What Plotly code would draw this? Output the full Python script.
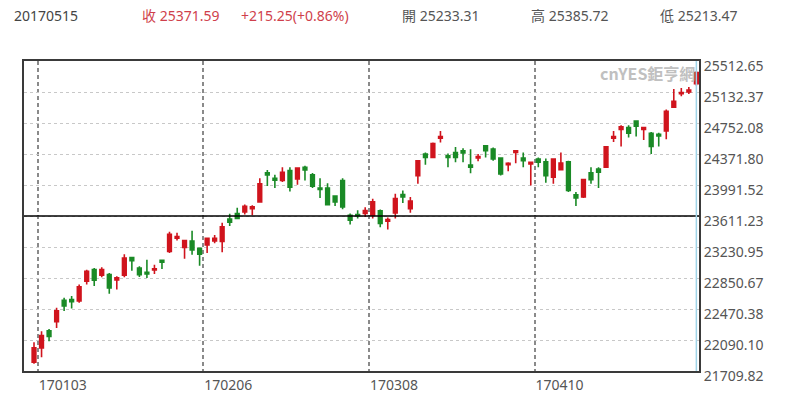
import plotly.graph_objects as go

dates = ["161230",
         "170103", "170104", "170105", "170106",
         "170109", "170110", "170111", "170112", "170113",
         "170116", "170117", "170118", "170119", "170120",
         "170123", "170124", "170125", "170126", "170127",
         "170201", "170202", "170203",
         "170206", "170207", "170208", "170209", "170210",
         "170213", "170214", "170215", "170216", "170217",
         "170220", "170221", "170222", "170223", "170224",
         "170227", "170228", "170301", "170302", "170303",
         "170306", "170307", "170308", "170309", "170310",
         "170313", "170314", "170315", "170316", "170317",
         "170320", "170321", "170322", "170323", "170324",
         "170327", "170328", "170329", "170330", "170331",
         "170403", "170405", "170406", "170407",
         "170410", "170411", "170412", "170413",
         "170418", "170419", "170420", "170421",
         "170424", "170425", "170426", "170427", "170428",
         "170502", "170504", "170505",
         "170508", "170509", "170510", "170511", "170512",
         "170515"]

open_ = [21819, 21993, 22204, 22314, 22576, 22585, 22569, 22812, 22953, 22885,
         22892, 22828, 22885, 23103, 22973, 22921, 22949, 23067, 23176, 23338,
         23225, 23305, 23216, 23256, 23305, 23298, 23575, 23642, 23662, 23702,
         23784, 24140, 24075, 24046, 24168, 24067, 24209, 24116, 23954, 23954,
         23857, 24046, 23621, 23629, 23642, 23621, 23674, 23548, 23650, 23875,
         23702, 24107, 24371, 24330, 24565, 24350, 24391, 24411, 24237, 24322,
         24471, 24431, 24322, 24241, 24391, 24322, 24249, 24310, 24277, 24087,
         24180, 24277, 23872, 23844, 24140, 24188, 24209, 24565, 24674, 24695,
         24775, 24674, 24626, 24614, 24654, 24945, 25112, 25132, 25233.31]

high = [22062, 22196, 22224, 22487, 22609, 22630, 22771, 22953, 22973, 22982,
        22912, 22873, 23143, 23108, 22994, 23074, 23014, 23070, 23419, 23407,
        23314, 23431, 23225, 23346, 23378, 23529, 23640, 23711, 23751, 23743,
        24075, 24176, 24116, 24209, 24209, 24209, 24229, 24140, 24075, 24014,
        23865, 24075, 23642, 23682, 23720, 23824, 23690, 23593, 23885, 23925,
        23844, 24292, 24391, 24512, 24654, 24379, 24459, 24443, 24431, 24371,
        24483, 24452, 24330, 24270, 24414, 24391, 24273, 24330, 24318, 24318,
        24391, 24289, 23905, 24067, 24209, 24209, 24471, 24654, 24723, 24723,
        24787, 24698, 24642, 24634, 24917, 25169, 25181, 25193, 25385.72]

low = [21798, 21880, 22074, 22236, 22447, 22475, 22548, 22771, 22751, 22860,
       22657, 22710, 22860, 22940, 22864, 22852, 22900, 22961, 23156, 23310,
       23087, 23135, 23001, 23156, 23277, 23168, 23490, 23573, 23630, 23621,
       23775, 23978, 23954, 24027, 23913, 23994, 24046, 23954, 23832, 23743,
       23735, 23694, 23508, 23581, 23599, 23581, 23472, 23447, 23581, 23772,
       23650, 24006, 24241, 24322, 24512, 24209, 24270, 24270, 24136, 24282,
       24330, 24289, 24107, 24160, 24258, 24209, 23985, 24209, 24018, 24006,
       24168, 23905, 23735, 23832, 24006, 23954, 24200, 24519, 24464, 24573,
       24586, 24544, 24371, 24464, 24553, 24938, 25079, 25108, 25213.47]

close = [21993, 22144, 22135, 22447, 22508, 22560, 22743, 22933, 22824, 22953,
         22730, 22852, 23095, 23062, 22892, 22900, 22965, 23046, 23386, 23358,
         23310, 23196, 23143, 23338, 23338, 23480, 23535, 23581, 23730, 23723,
         24006, 24116, 24051, 24148, 23966, 24200, 24176, 23978, 23937, 23751,
         23784, 23723, 23560, 23614, 23678, 23784, 23520, 23569, 23824, 23844,
         23796, 24289, 24330, 24500, 24586, 24330, 24330, 24386, 24209, 24342,
         24411, 24310, 24128, 24258, 24411, 24289, 24270, 24270, 24107, 24310,
         24261, 23925, 23832, 24058, 24058, 24148, 24459, 24586, 24707, 24626,
         24714, 24695, 24464, 24593, 24897, 25018, 25127, 25156.34, 25371.59]

y_ticks = [21709.82, 22090.10, 22470.38, 22850.67, 23230.95, 23611.23,
           23991.52, 24371.80, 24752.08, 25132.37, 25512.65]
x_tick_dates = ["170103", "170206", "170308", "170410"]

RED = "#d0141d"
GREEN = "#1a8a26"
FONT = "Noto Sans, Noto Sans CJK TC, sans-serif"

idx = list(range(len(dates)))
x_tickvals = [dates.index(d) - 0.5 for d in x_tick_dates]

fig = go.Figure(go.Candlestick(
    x=idx, open=open_, high=high, low=low, close=close,
    increasing=dict(line=dict(color=RED, width=1.6), fillcolor=RED),
    decreasing=dict(line=dict(color=GREEN, width=1.6), fillcolor=GREEN),
    hoverinfo="skip",
))

# middle reference line
mid = y_ticks[len(y_ticks) // 2]
fig.add_shape(type="line", xref="paper", x0=0, x1=1, yref="y", y0=mid, y1=mid,
              line=dict(color="#000", width=1.3), layer="above")
# cursor line on the last candle
fig.add_shape(type="line", xref="x", x0=idx[-1], x1=idx[-1], yref="paper", y0=0, y1=1,
              line=dict(color="#9fd4e8", width=1.5), layer="above")

W, H = 800, 406
L, R, T, B = 24, 699, 61, 374


def px(xp):
    return (xp - L) / (R - L)


def py(yp):
    return (B - yp) / (B - T)


last_c, prev_c = close[-1], close[-2]
chg = last_c - prev_c
pct = chg / prev_c * 100
hdr_y = py(15.5)
ann = [
    (11.5, "20" + dates[-1], "#444"),
    (140, f"收 {last_c:.2f}", "#cf3f4c"),
    (239, f"{chg:+.2f}({pct:+.2f}%)", "#cf3f4c"),
    (400, f"開 {open_[-1]:.2f}", "#555"),
    (529, f"高 {high[-1]:.2f}", "#555"),
    (658, f"低 {low[-1]:.2f}", "#555"),
]
for x0, txt, col in ann:
    fig.add_annotation(x=px(x0), y=hdr_y, xref="paper", yref="paper", text=txt,
                       showarrow=False, xanchor="left", yanchor="middle",
                       font=dict(family=FONT, size=14, color=col))

fig.add_annotation(x=px(697), y=py(73), xref="paper", yref="paper",
                   text="<b>cnYES鉅亨網</b>", showarrow=False,
                   xanchor="right", yanchor="middle",
                   font=dict(family="Noto Sans CJK TC, sans-serif", size=16, color="#c0c0c0"))

fig.update_layout(
    width=W, height=H,
    margin=dict(l=L, r=W - R, t=T, b=H - B, pad=0),
    paper_bgcolor="white", plot_bgcolor="white",
    showlegend=False,
    font=dict(family=FONT, size=14, color="#555"),
    xaxis=dict(
        range=[-1.33, 88.35], rangeslider=dict(visible=False),
        tickvals=x_tickvals, ticktext=x_tick_dates,
        showgrid=True, gridcolor="#8a8a8a", gridwidth=1.6, griddash="4px,3px",
        showline=True, linecolor="#3a3a3a", linewidth=2, mirror=True,
        ticks="", zeroline=False, ticklabelshift=25,
        tickfont=dict(family=FONT, size=14, color="#555"),
        fixedrange=True,
    ),
    yaxis=dict(
        range=[y_ticks[0], y_ticks[-1]], side="right",
        tickvals=y_ticks, ticktext=[f"{v:.2f}" for v in y_ticks],
        showgrid=True, gridcolor="#c8c8c8", gridwidth=1, griddash="dot",
        showline=True, linecolor="#3a3a3a", linewidth=2, mirror=True,
        ticks="", zeroline=False, ticklabelshift=5,
        tickfont=dict(family=FONT, size=14, color="#555"),
        fixedrange=True,
    ),
)

fig.write_html("out.html", config={"displayModeBar": False},
               post_script="document.body.style.margin='0';document.body.style.overflow='hidden';")
